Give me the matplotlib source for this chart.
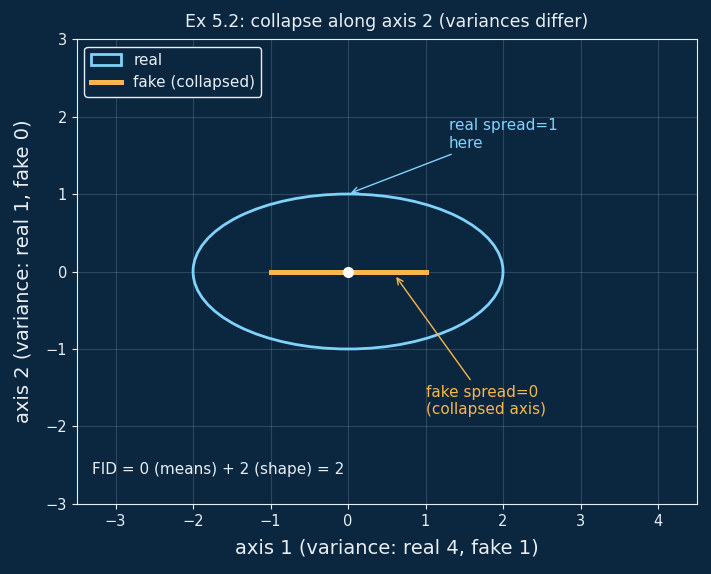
import matplotlib
matplotlib.use("Agg")
import matplotlib.pyplot as plt
from matplotlib.patches import Ellipse

# data
real_mean = (0.0, 0.0)
real_var = (4.0, 1.0)          # variance along axis 1, axis 2
fake_var = (1.0, 0.0)
fake_x = [-1.0, 1.0]
fake_y = [0.0, 0.0]
xticks = [-3, -2, -1, 0, 1, 2, 3, 4]
yticks = [-3, -2, -1, 0, 1, 2, 3]

BG = "#0b2740"
BLUE = "#7fd3fb"
ORANGE = "#f8b74a"
FG = "#e8eef5"

fig = plt.figure(figsize=(7.11, 5.74), dpi=100, facecolor=BG)
ax = fig.add_axes([0.108, 0.122, 0.872, 0.810], facecolor=BG)

ell = Ellipse(real_mean, width=2 * real_var[0] ** 0.5, height=2 * real_var[1] ** 0.5,
              facecolor="none", edgecolor=BLUE, lw=2, label="real", zorder=3)
ax.add_patch(ell)
ax.plot(fake_x, fake_y, color=ORANGE, lw=3.6, label="fake (collapsed)", zorder=4)
ax.plot([real_mean[0]], [real_mean[1]], "o", color="white", ms=7, zorder=5)

ax.set_xlim(-3.5, 4.5)
ax.set_ylim(-3, 3)
ax.set_aspect("equal")
ax.set_xticks(xticks)
ax.set_yticks(yticks)
ax.set_xticklabels([str(t).replace("-", "\u2212") for t in xticks])
ax.set_yticklabels([str(t).replace("-", "\u2212") for t in yticks])
ax.grid(True, color="white", alpha=0.15, lw=0.8)
ax.set_axisbelow(True)
for s in ax.spines.values():
    s.set_color(FG)
ax.tick_params(colors=FG, labelsize=10.5)

ax.set_title("Ex 5.2: collapse along axis 2 (variances differ)", color=FG, fontsize=12.5, pad=9)
ax.set_xlabel("axis 1 (variance: real 4, fake 1)", color=FG, fontsize=14, labelpad=7)
ax.set_ylabel("axis 2 (variance: real 1, fake 0)", color=FG, fontsize=14, labelpad=9)

ax.annotate("real spread=1\nhere", xy=(0.0, 1.0), xytext=(1.3, 1.6),
            color=BLUE, fontsize=11,
            arrowprops=dict(arrowstyle="->", color=BLUE, lw=1))
ax.annotate("fake spread=0\n(collapsed axis)", xy=(0.6, -0.04), xytext=(1.0, -1.84),
            color=ORANGE, fontsize=11,
            arrowprops=dict(arrowstyle="->", color=ORANGE, lw=1))
ax.text(-3.3, -2.55, "FID = 0 (means) + 2 (shape) = 2", color=FG, fontsize=11, va="center")

leg = ax.legend(loc="upper left", fontsize=11, facecolor=BG, edgecolor=FG, framealpha=1)
for t in leg.get_texts():
    t.set_color(FG)

fig.savefig("out.png", dpi=100, facecolor=BG)
